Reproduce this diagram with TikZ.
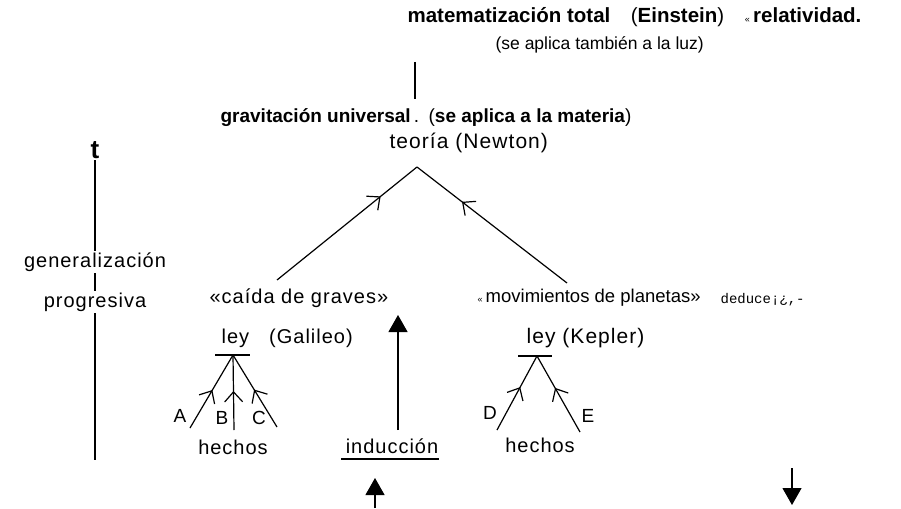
\documentclass[tikz,border=0pt]{standalone}
\usepackage{fontspec}
\setmainfont{Liberation Sans}
\newfontfamily\scanfont[LetterSpace=5]{Liberation Sans}
\newfontfamily\typefont{Liberation Mono}
\usetikzlibrary{arrows.meta,positioning,decorations.markings}

\begin{document}
\begin{tikzpicture}[x=1pt, y=-1pt, line width=1.2pt,
    every node/.style={inner sep=1pt},
    head/.style={font=\fontsize{20.5}{23}\selectfont},
    note/.style={font=\fontsize{17.5}{21}\selectfont},
    theory/.style={font=\fontsize{19}{22}\selectfont},
    scan/.style={font=\scanfont\fontsize{20}{23}\selectfont},
    letter/.style={font=\fontsize{19}{22}\selectfont},
    barb/.style={postaction={decorate}, decoration={markings,
      mark=at position #1 with {\arrow{Straight Barb[length=10pt,width=18pt]}}}},
    solid tip/.style={-{Triangle[length=17pt,width=19pt]}}]
  \useasboundingbox (0,0) rectangle (901,508);

  % top: Einstein
  \node[head, anchor=west] (einstein) at (406,17)
    {\textbf{matematización total}\quad(\textbf{Einstein})\quad{\small«}\,\textbf{relatividad.}};
  \node[note, anchor=west] (luz) at (494,45) {(se aplica también a la luz)};
  \coordinate (e1) at (415,62);
  \coordinate (e2) at (415,99);
  \draw (e1) -- (e2);

  % Newton
  \node[theory, anchor=west] (grav) at (219,118)
    {\textbf{gravitación universal}\,.\enspace (\textbf{se aplica a la materia})};
  \node[scan, font=\scanfont\fontsize{21}{24}\selectfont, anchor=west] (newton) at (388,143) {teoría (Newton)};
  \coordinate (apex) at (417,167);
  \coordinate (gl) at (277,280);
  \coordinate (gr) at (567,283);
  \draw[barb=0.74] (gl) -- (apex);
  \draw[barb=0.70] (gr) -- (apex);

  \node[scan, anchor=west] (caida) at (208,298) {«caída de graves»};
  \node[font=\fontsize{18.5}{22}\selectfont, anchor=west] (planetas) at (476,298) {{\small«}\,movimientos de planetas»};
  \node[font=\typefont\fontsize{14}{16}\selectfont, anchor=west] (deduce) at (719,300) {deduce¡¿,-};

  % Galileo
  \node[scan, anchor=west] (galileo) at (220,338) {ley\quad(Galileo)};
  \coordinate (g0) at (233,355);
  \draw (g0) ++(-18,0) -- ++(35,0);
  \coordinate (fa) at (190,428);
  \coordinate (fb) at (234,430);
  \coordinate (fc) at (277,427);
  \foreach \f in {fa,fb,fc}
    \draw[barb=0.52] (\f) -- (g0);
  \node[letter] (la) at (180,416) {A};
  \node[letter] (lb) at (222,418) {B};
  \node[letter] (lc) at (259,418) {C};
  \node[scan] (hechos1) at (233,447) {hechos};

  % Kepler
  \node[scan, font=\scanfont\fontsize{21}{24}\selectfont, anchor=west] (kepler) at (525,338) {ley (Kepler)};
  \coordinate (k0) at (537,356);
  \draw (k0) ++(-19,0) -- ++(34,0);
  \coordinate (fd) at (497,430);
  \coordinate (fe) at (580,432);
  \foreach \f in {fd,fe}
    \draw[barb=0.58] (\f) -- (k0);
  \node[letter] (ld) at (490,413) {D};
  \node[letter] (le) at (588,416) {E};
  \node[scan] (hechos2) at (540,445) {hechos};

  % induccion
  \node[scan] (induccion) at (392,446) {inducción};
  \draw (induccion.south west) ++(-3,4) -- ++(98,0);
  \coordinate (i1) at (398,430);
  \coordinate (i2) at (398,315);
  \draw[solid tip] (i1) -- (i2);
  \coordinate (u1) at (375,508);
  \coordinate (u2) at (375,478);
  \draw[solid tip] (u1) -- (u2);
  \coordinate (d1) at (792,468);
  \coordinate (d2) at (792,505);
  \draw[solid tip] (d1) -- (d2);

  % time axis
  \node[font=\bfseries\fontsize{26}{28}\selectfont] (t) at (95,150) {t};
  \coordinate (tb) at (95,460);
  \draw (t.south) -- (tb);
  \node[scan, fill=white, inner sep=2pt] (gen) at (95,262) {generalización};
  \node[scan, fill=white, inner sep=2pt] (prog) at (95,302) {progresiva};
\end{tikzpicture}
\end{document}
